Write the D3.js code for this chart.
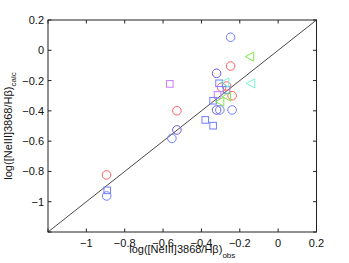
<!DOCTYPE html>
<html><head><meta charset="utf-8">
<script src="https://cdn.jsdelivr.net/npm/d3@7"></script>
<style>body{margin:0;background:#fff}svg{display:block}text{font-family:"Liberation Sans",Arial,sans-serif}</style>
</head><body>
<svg id="c" width="349" height="263"></svg>
<script>
const xTicks = [-1.2, -1, -0.8, -0.6, -0.4, -0.2, 0, 0.2];
const yTicks = [-1.2, -1, -0.8, -0.6, -0.4, -0.2, 0, 0.2];
const blueCircleX = [-0.894, -0.554, -0.304, -0.240, -0.248];
const blueCircleY = [-0.962, -0.582, -0.394, -0.394, 0.086];
const violetCircleX = [-0.528, -0.321, -0.321];
const violetCircleY = [-0.526, -0.152, -0.394];
const redCircleX = [-0.895, -0.528, -0.248, -0.269, -0.295, -0.240];
const redCircleY = [-0.823, -0.399, -0.104, -0.236, -0.244, -0.300];
const blueSquareX = [-0.891, -0.308, -0.269, -0.339, -0.380, -0.339];
const blueSquareY = [-0.925, -0.218, -0.262, -0.333, -0.460, -0.498];
const purpleSquareX = [-0.565, -0.316];
const purpleSquareY = [-0.222, -0.295];
const greenTriX = [-0.148, -0.269, -0.304];
const greenTriY = [-0.042, -0.306, -0.339];
const cyanTriX = [-0.143, -0.278];
const cyanTriY = [-0.219, -0.213];

const svg = d3.select("#c");
const L = 48, R = 316.5, T = 20, B = 232;
const x = d3.scaleLinear().domain([-1.2, 0.2]).range([L, R]);
const y = d3.scaleLinear().domain([-1.2, 0.2]).range([B, T]);
const fmt = d => d === -1.2 ? "" : (d === 0 ? "0" : d3.format("")(+d.toFixed(1)).replace("-", "\u2212"));

// diagonal
svg.append("line").attr("x1", x(-1.2)).attr("y1", y(-1.2)).attr("x2", x(0.2)).attr("y2", y(0.2))
  .attr("stroke", "#333").attr("stroke-width", 0.9);

function pts(xs, ys) { return xs.map((v, i) => [v, ys[i]]); }
const g = svg.append("g").attr("fill", "none").attr("stroke-width", 1);
function circles(xs, ys, col) {
  g.selectAll(null).data(pts(xs, ys)).enter().append("circle")
    .attr("cx", d => x(d[0])).attr("cy", d => y(d[1])).attr("r", 4.3).attr("stroke", col);
}
function squares(xs, ys, col) {
  g.selectAll(null).data(pts(xs, ys)).enter().append("rect")
    .attr("x", d => x(d[0]) - 3.3).attr("y", d => y(d[1]) - 3.3).attr("width", 6.6).attr("height", 6.6).attr("stroke", col);
}
function tris(xs, ys, col) {
  g.selectAll(null).data(pts(xs, ys)).enter().append("path")
    .attr("d", d => { const cx = x(d[0]), cy = y(d[1]); return `M${cx-4.5},${cy}L${cx+4},${cy-4.5}L${cx+4},${cy+4.5}Z`; })
    .attr("stroke", col);
}
circles(redCircleX, redCircleY, "#ff6060");
squares(purpleSquareX, purpleSquareY, "#c77dff");
squares(blueSquareX, blueSquareY, "#6f7dff");
tris(greenTriX, greenTriY, "#7ee84a");
tris(cyanTriX, cyanTriY, "#6ff5d0");
circles(blueCircleX, blueCircleY, "#7080ff");
circles(violetCircleX, violetCircleY, "#6a5cdc");

// axes box & ticks
const ax = svg.append("g").attr("stroke", "#222").attr("stroke-width", 1);
ax.append("rect").attr("x", L).attr("y", T).attr("width", R - L).attr("height", B - T).attr("fill", "none");
xTicks.forEach(t => {
  ax.append("line").attr("x1", x(t)).attr("x2", x(t)).attr("y1", B).attr("y2", B - 3.5);
  ax.append("line").attr("x1", x(t)).attr("x2", x(t)).attr("y1", T).attr("y2", T + 3.5);
});
yTicks.forEach(t => {
  ax.append("line").attr("y1", y(t)).attr("y2", y(t)).attr("x1", L).attr("x2", L + 3.5);
  ax.append("line").attr("y1", y(t)).attr("y2", y(t)).attr("x1", R).attr("x2", R - 3.5);
});
const lab = svg.append("g").attr("font-size", 11).attr("fill", "#111");
xTicks.forEach(t => lab.append("text").attr("x", x(t)).attr("y", 247).attr("text-anchor", "middle").text(fmt(t)));
yTicks.forEach(t => lab.append("text").attr("x", 44).attr("y", y(t) + 4).attr("text-anchor", "end").text(fmt(t)));

// axis titles
const xl = lab.append("text").attr("x", x(-0.5)).attr("y", 253).attr("text-anchor", "middle");
xl.append("tspan").text("log([NeIII]3868/H\u03B2)");
xl.append("tspan").attr("font-size", 8).attr("dy", 5).text("obs");
const yl = lab.append("text").attr("transform", `translate(12,${y(-0.5)}) rotate(-90)`).attr("text-anchor", "middle");
yl.append("tspan").text("log([NeIII]3868/H\u03B2)");
yl.append("tspan").attr("font-size", 8).attr("dy", 4).text("calc");
</script>
</body></html>
